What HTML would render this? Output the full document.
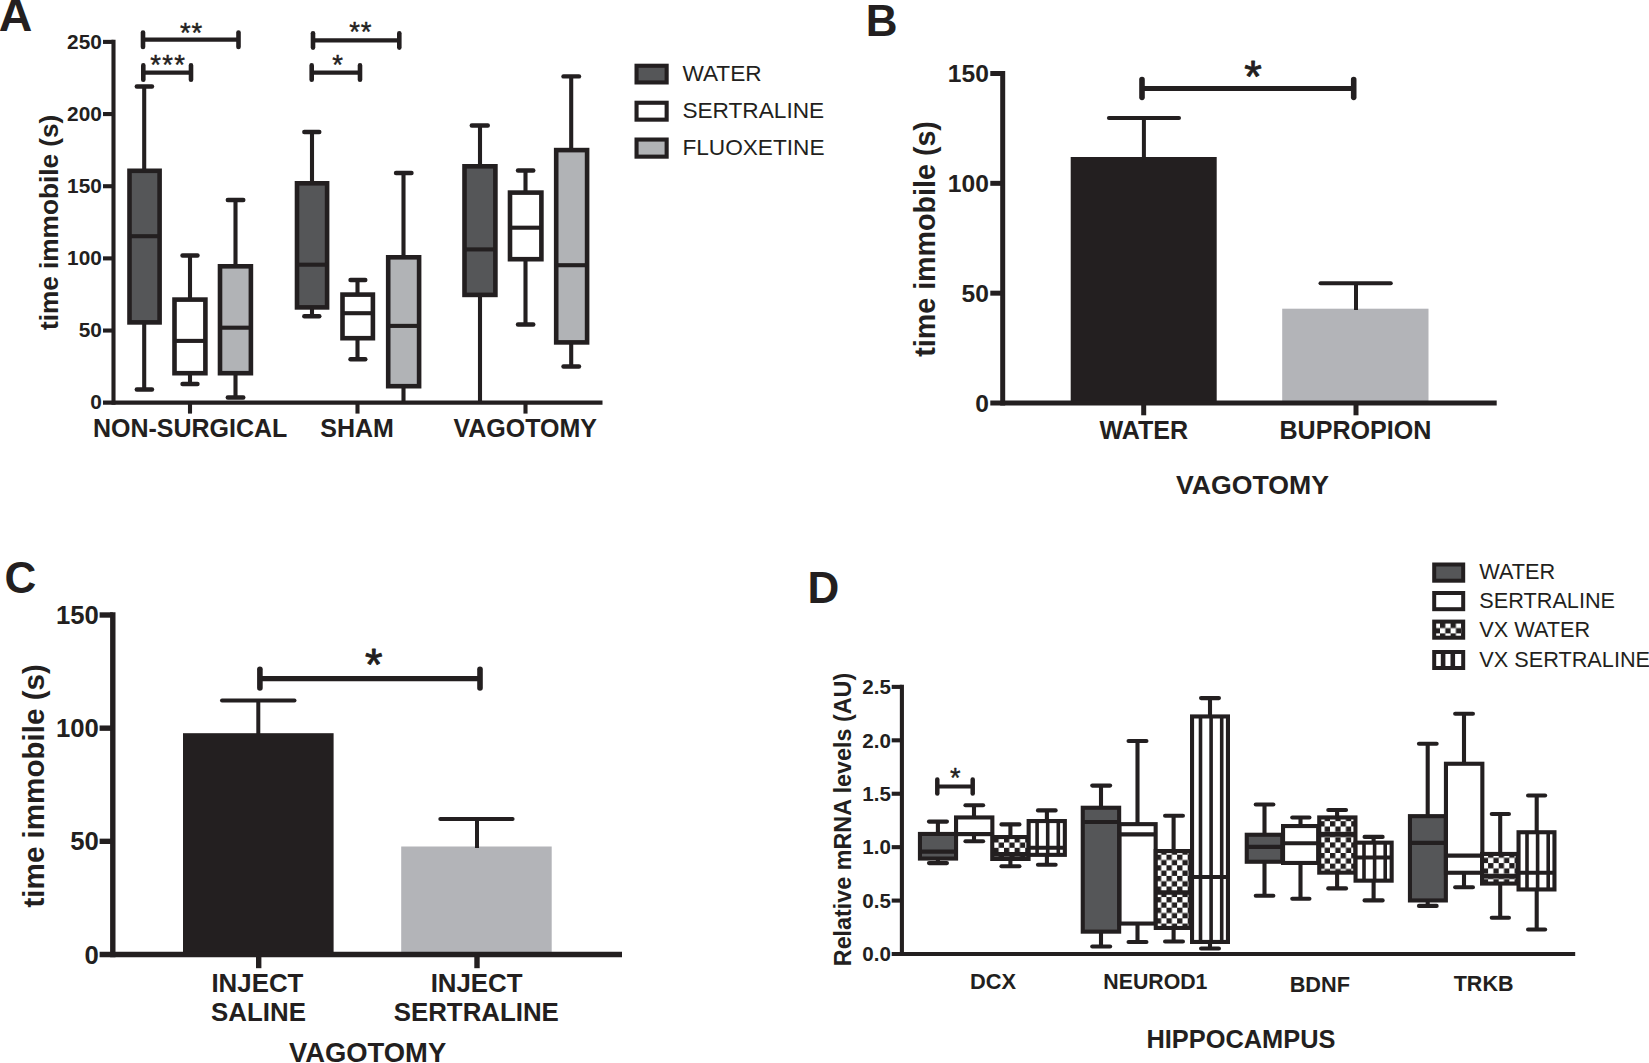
<!DOCTYPE html>
<html lang="en"><head><meta charset="utf-8"><title>Figure</title>
<style>html,body{margin:0;padding:0;background:#fff;overflow:hidden}svg{display:block}text{font-family:"Liberation Sans",Arial,Helvetica,sans-serif;fill:#231f20}</style></head><body>
<svg width="1649" height="1063" viewBox="0 0 1649 1063">
<defs>
<pattern id="chk" patternUnits="userSpaceOnUse" width="10.6" height="10.6"><rect width="10.6" height="10.6" fill="#fff"/><rect x="0" y="0" width="5.3" height="5.3" fill="#231f20"/><rect x="5.3" y="5.3" width="5.3" height="5.3" fill="#231f20"/></pattern>
</defs>
<rect width="1649" height="1063" fill="#fff"/>
<g id="panelA">
<text x="-1.3" y="31.4" font-size="46.5" font-weight="bold">A</text>
<line x1="144.2" y1="86.5" x2="144.2" y2="172.6" stroke="#231f20" stroke-width="4.1" stroke-linecap="butt"/>
<line x1="144.2" y1="320.6" x2="144.2" y2="389.5" stroke="#231f20" stroke-width="4.1" stroke-linecap="butt"/>
<line x1="136.8" y1="86.5" x2="152" y2="86.5" stroke="#231f20" stroke-width="4.4" stroke-linecap="round"/>
<line x1="136.8" y1="389.5" x2="152" y2="389.5" stroke="#231f20" stroke-width="4.4" stroke-linecap="round"/>
<rect x="129.5" y="170.8" width="30.1" height="151.6" fill="#555658" stroke="#231f20" stroke-width="4.6"/>
<line x1="129.5" y1="236.2" x2="159.6" y2="236.2" stroke="#231f20" stroke-width="4.1" stroke-linecap="butt"/>
<line x1="190" y1="255.5" x2="190" y2="301.4" stroke="#231f20" stroke-width="4.1" stroke-linecap="butt"/>
<line x1="190" y1="371.4" x2="190" y2="384" stroke="#231f20" stroke-width="4.1" stroke-linecap="butt"/>
<line x1="182.5" y1="255.5" x2="197.5" y2="255.5" stroke="#231f20" stroke-width="4.4" stroke-linecap="round"/>
<line x1="182.5" y1="384" x2="197.5" y2="384" stroke="#231f20" stroke-width="4.4" stroke-linecap="round"/>
<rect x="174.5" y="299.6" width="30.9" height="73.6" fill="#fff" stroke="#231f20" stroke-width="4.6"/>
<line x1="174.5" y1="340.9" x2="205.4" y2="340.9" stroke="#231f20" stroke-width="4.1" stroke-linecap="butt"/>
<line x1="235.5" y1="200" x2="235.5" y2="268.1" stroke="#231f20" stroke-width="4.1" stroke-linecap="butt"/>
<line x1="235.5" y1="371.4" x2="235.5" y2="397.5" stroke="#231f20" stroke-width="4.1" stroke-linecap="butt"/>
<line x1="227.8" y1="200" x2="243.3" y2="200" stroke="#231f20" stroke-width="4.4" stroke-linecap="round"/>
<line x1="227.8" y1="397.5" x2="243.3" y2="397.5" stroke="#231f20" stroke-width="4.4" stroke-linecap="round"/>
<rect x="220" y="266.3" width="30.9" height="106.9" fill="#b1b3b6" stroke="#231f20" stroke-width="4.6"/>
<line x1="220" y1="327.7" x2="250.9" y2="327.7" stroke="#231f20" stroke-width="4.1" stroke-linecap="butt"/>
<line x1="312" y1="132" x2="312" y2="185.1" stroke="#231f20" stroke-width="4.1" stroke-linecap="butt"/>
<line x1="312" y1="305.6" x2="312" y2="316.2" stroke="#231f20" stroke-width="4.1" stroke-linecap="butt"/>
<line x1="304.3" y1="132" x2="319.3" y2="132" stroke="#231f20" stroke-width="4.4" stroke-linecap="round"/>
<line x1="304.3" y1="316.2" x2="319.3" y2="316.2" stroke="#231f20" stroke-width="4.4" stroke-linecap="round"/>
<rect x="297" y="183.3" width="30.1" height="124.1" fill="#555658" stroke="#231f20" stroke-width="4.6"/>
<line x1="297" y1="264.7" x2="327.1" y2="264.7" stroke="#231f20" stroke-width="4.1" stroke-linecap="butt"/>
<line x1="357.5" y1="280" x2="357.5" y2="296.4" stroke="#231f20" stroke-width="4.1" stroke-linecap="butt"/>
<line x1="357.5" y1="336.4" x2="357.5" y2="359.2" stroke="#231f20" stroke-width="4.1" stroke-linecap="butt"/>
<line x1="350.5" y1="280" x2="365.3" y2="280" stroke="#231f20" stroke-width="4.4" stroke-linecap="round"/>
<line x1="350.5" y1="359.2" x2="365.3" y2="359.2" stroke="#231f20" stroke-width="4.4" stroke-linecap="round"/>
<rect x="342.5" y="294.6" width="30.4" height="43.6" fill="#fff" stroke="#231f20" stroke-width="4.6"/>
<line x1="342.5" y1="313.2" x2="372.9" y2="313.2" stroke="#231f20" stroke-width="4.1" stroke-linecap="butt"/>
<line x1="403.5" y1="173" x2="403.5" y2="259.1" stroke="#231f20" stroke-width="4.1" stroke-linecap="butt"/>
<line x1="403.5" y1="384.4" x2="403.5" y2="402" stroke="#231f20" stroke-width="4.1" stroke-linecap="butt"/>
<line x1="396" y1="173" x2="411.5" y2="173" stroke="#231f20" stroke-width="4.4" stroke-linecap="round"/>
<rect x="388.2" y="257.3" width="30.9" height="128.9" fill="#b1b3b6" stroke="#231f20" stroke-width="4.6"/>
<line x1="388.2" y1="325.9" x2="419.1" y2="325.9" stroke="#231f20" stroke-width="4.1" stroke-linecap="butt"/>
<line x1="480" y1="125.5" x2="480" y2="168.1" stroke="#231f20" stroke-width="4.1" stroke-linecap="butt"/>
<line x1="480" y1="293.1" x2="480" y2="402" stroke="#231f20" stroke-width="4.1" stroke-linecap="butt"/>
<line x1="471.8" y1="125.5" x2="487.8" y2="125.5" stroke="#231f20" stroke-width="4.4" stroke-linecap="round"/>
<rect x="464.5" y="166.3" width="30.9" height="128.6" fill="#555658" stroke="#231f20" stroke-width="4.6"/>
<line x1="464.5" y1="249.4" x2="495.4" y2="249.4" stroke="#231f20" stroke-width="4.1" stroke-linecap="butt"/>
<line x1="525.5" y1="170.5" x2="525.5" y2="194.4" stroke="#231f20" stroke-width="4.1" stroke-linecap="butt"/>
<line x1="525.5" y1="257.4" x2="525.5" y2="324.5" stroke="#231f20" stroke-width="4.1" stroke-linecap="butt"/>
<line x1="518" y1="170.5" x2="533.3" y2="170.5" stroke="#231f20" stroke-width="4.4" stroke-linecap="round"/>
<line x1="518" y1="324.5" x2="533.3" y2="324.5" stroke="#231f20" stroke-width="4.4" stroke-linecap="round"/>
<rect x="510" y="192.6" width="31.4" height="66.6" fill="#fff" stroke="#231f20" stroke-width="4.6"/>
<line x1="510" y1="227.7" x2="541.4" y2="227.7" stroke="#231f20" stroke-width="4.1" stroke-linecap="butt"/>
<line x1="571.2" y1="76.4" x2="571.2" y2="151.9" stroke="#231f20" stroke-width="4.1" stroke-linecap="butt"/>
<line x1="571.2" y1="340.6" x2="571.2" y2="366.5" stroke="#231f20" stroke-width="4.1" stroke-linecap="butt"/>
<line x1="563.5" y1="76.4" x2="579" y2="76.4" stroke="#231f20" stroke-width="4.4" stroke-linecap="round"/>
<line x1="563.5" y1="366.5" x2="579" y2="366.5" stroke="#231f20" stroke-width="4.4" stroke-linecap="round"/>
<rect x="556.2" y="150.1" width="30.9" height="192.3" fill="#b1b3b6" stroke="#231f20" stroke-width="4.6"/>
<line x1="556.2" y1="265.2" x2="587.1" y2="265.2" stroke="#231f20" stroke-width="4.1" stroke-linecap="butt"/>
<line x1="113.5" y1="39.85" x2="113.5" y2="404.75" stroke="#231f20" stroke-width="4.1" stroke-linecap="butt"/>
<line x1="103" y1="402.7" x2="602.5" y2="402.7" stroke="#231f20" stroke-width="4.3" stroke-linecap="butt"/>
<line x1="103" y1="330.54" x2="113.5" y2="330.54" stroke="#231f20" stroke-width="4.1" stroke-linecap="butt"/>
<line x1="103" y1="258.38" x2="113.5" y2="258.38" stroke="#231f20" stroke-width="4.1" stroke-linecap="butt"/>
<line x1="103" y1="186.22" x2="113.5" y2="186.22" stroke="#231f20" stroke-width="4.1" stroke-linecap="butt"/>
<line x1="103" y1="114.06" x2="113.5" y2="114.06" stroke="#231f20" stroke-width="4.1" stroke-linecap="butt"/>
<line x1="103" y1="41.9" x2="113.5" y2="41.9" stroke="#231f20" stroke-width="4.1" stroke-linecap="butt"/>
<text x="101.8" y="409.4" font-size="20.8" font-weight="bold" text-anchor="end">0</text>
<text x="101.8" y="337.24" font-size="20.8" font-weight="bold" text-anchor="end">50</text>
<text x="101.8" y="265.08" font-size="20.8" font-weight="bold" text-anchor="end">100</text>
<text x="101.8" y="192.92" font-size="20.8" font-weight="bold" text-anchor="end">150</text>
<text x="101.8" y="120.76" font-size="20.8" font-weight="bold" text-anchor="end">200</text>
<text x="101.8" y="48.6" font-size="20.8" font-weight="bold" text-anchor="end">250</text>
<line x1="190" y1="402.7" x2="190" y2="413.6" stroke="#231f20" stroke-width="4.1" stroke-linecap="butt"/>
<line x1="357.5" y1="402.7" x2="357.5" y2="413.6" stroke="#231f20" stroke-width="4.1" stroke-linecap="butt"/>
<line x1="525.5" y1="402.7" x2="525.5" y2="413.6" stroke="#231f20" stroke-width="4.1" stroke-linecap="butt"/>
<text x="190.1" y="436.8" font-size="25" font-weight="bold" text-anchor="middle">NON-SURGICAL</text>
<text x="357.1" y="436.8" font-size="25" font-weight="bold" text-anchor="middle">SHAM</text>
<text x="525.2" y="436.8" font-size="25" font-weight="bold" text-anchor="middle">VAGOTOMY</text>
<text x="57.6" y="222.4" font-size="26.2" font-weight="bold" text-anchor="middle" transform="rotate(-90 57.6 222.4)">time immobile (s)</text>
<line x1="143" y1="39.7" x2="238.5" y2="39.7" stroke="#231f20" stroke-width="4.3" stroke-linecap="butt"/>
<line x1="143" y1="32.5" x2="143" y2="46.9" stroke="#231f20" stroke-width="4.6" stroke-linecap="round"/>
<line x1="238.5" y1="32.5" x2="238.5" y2="46.9" stroke="#231f20" stroke-width="4.6" stroke-linecap="round"/>
<line x1="143.3" y1="72.6" x2="191" y2="72.6" stroke="#231f20" stroke-width="4.3" stroke-linecap="butt"/>
<line x1="143.3" y1="65.4" x2="143.3" y2="79.8" stroke="#231f20" stroke-width="4.6" stroke-linecap="round"/>
<line x1="191" y1="65.4" x2="191" y2="79.8" stroke="#231f20" stroke-width="4.6" stroke-linecap="round"/>
<line x1="313" y1="40.4" x2="399.3" y2="40.4" stroke="#231f20" stroke-width="4.3" stroke-linecap="butt"/>
<line x1="313" y1="33.2" x2="313" y2="47.6" stroke="#231f20" stroke-width="4.6" stroke-linecap="round"/>
<line x1="399.3" y1="33.2" x2="399.3" y2="47.6" stroke="#231f20" stroke-width="4.6" stroke-linecap="round"/>
<line x1="311.7" y1="72.6" x2="360" y2="72.6" stroke="#231f20" stroke-width="4.3" stroke-linecap="butt"/>
<line x1="311.7" y1="65.4" x2="311.7" y2="79.8" stroke="#231f20" stroke-width="4.6" stroke-linecap="round"/>
<line x1="360" y1="65.4" x2="360" y2="79.8" stroke="#231f20" stroke-width="4.6" stroke-linecap="round"/>
<text x="191.6" y="41.5" font-size="27.5" text-anchor="middle" stroke="#231f20" stroke-width="0.45" stroke-linejoin="round" letter-spacing="0.8">**</text>
<text x="168.2" y="74" font-size="27.5" text-anchor="middle" stroke="#231f20" stroke-width="0.45" stroke-linejoin="round" letter-spacing="1.2">***</text>
<text x="360.7" y="40.5" font-size="27.5" text-anchor="middle" stroke="#231f20" stroke-width="0.45" stroke-linejoin="round" letter-spacing="0.8">**</text>
<text x="337.5" y="74" font-size="27.5" text-anchor="middle" stroke="#231f20" stroke-width="0.45" stroke-linejoin="round">*</text>
<rect x="636.55" y="65.75" width="30.1" height="16.7" fill="#555658" stroke="#231f20" stroke-width="4.1"/>
<text x="682.4" y="81.2" font-size="22.65">WATER</text>
<rect x="636.55" y="102.75" width="30.1" height="16.9" fill="#fff" stroke="#231f20" stroke-width="4.1"/>
<text x="682.4" y="118" font-size="22.65">SERTRALINE</text>
<rect x="636.55" y="139.55" width="30.1" height="17.1" fill="#b1b3b6" stroke="#231f20" stroke-width="4.1"/>
<text x="682.4" y="155" font-size="22.65">FLUOXETINE</text>
</g>
<g id="panelB">
<text x="865.8" y="35.5" font-size="44" font-weight="bold">B</text>
<rect x="1070.7" y="157" width="146" height="246" fill="#231f20"/>
<rect x="1282.2" y="308.7" width="146.3" height="94.3" fill="#b3b4b8"/>
<line x1="1143.9" y1="117.9" x2="1143.9" y2="158" stroke="#231f20" stroke-width="4" stroke-linecap="butt"/>
<line x1="1108.9" y1="117.9" x2="1179" y2="117.9" stroke="#231f20" stroke-width="4" stroke-linecap="round"/>
<line x1="1356" y1="283.3" x2="1356" y2="310" stroke="#231f20" stroke-width="4" stroke-linecap="butt"/>
<line x1="1320.5" y1="283.3" x2="1390.8" y2="283.3" stroke="#231f20" stroke-width="4" stroke-linecap="round"/>
<line x1="1002.7" y1="71" x2="1002.7" y2="405.5" stroke="#231f20" stroke-width="5" stroke-linecap="butt"/>
<line x1="990.3" y1="403" x2="1496.7" y2="403" stroke="#231f20" stroke-width="5" stroke-linecap="butt"/>
<line x1="990.3" y1="293.17" x2="1002.7" y2="293.17" stroke="#231f20" stroke-width="5" stroke-linecap="butt"/>
<line x1="990.3" y1="183.33" x2="1002.7" y2="183.33" stroke="#231f20" stroke-width="5" stroke-linecap="butt"/>
<line x1="990.3" y1="73.5" x2="1002.7" y2="73.5" stroke="#231f20" stroke-width="5" stroke-linecap="butt"/>
<text x="988.9" y="411.8" font-size="24.6" font-weight="bold" text-anchor="end">0</text>
<text x="988.9" y="301.97" font-size="24.6" font-weight="bold" text-anchor="end">50</text>
<text x="988.9" y="192.13" font-size="24.6" font-weight="bold" text-anchor="end">100</text>
<text x="988.9" y="82.3" font-size="24.6" font-weight="bold" text-anchor="end">150</text>
<line x1="1143.7" y1="403" x2="1143.7" y2="415.3" stroke="#231f20" stroke-width="5" stroke-linecap="butt"/>
<line x1="1356" y1="403" x2="1356" y2="415.3" stroke="#231f20" stroke-width="5" stroke-linecap="butt"/>
<text x="1143.8" y="439.2" font-size="25.1" font-weight="bold" text-anchor="middle">WATER</text>
<text x="1355.5" y="439.2" font-size="25.1" font-weight="bold" text-anchor="middle">BUPROPION</text>
<text x="1252.5" y="493.9" font-size="26.65" font-weight="bold" text-anchor="middle">VAGOTOMY</text>
<text x="935.3" y="238.9" font-size="28.66" font-weight="bold" text-anchor="middle" transform="rotate(-90 935.3 238.9)">time immobile (s)</text>
<line x1="1142" y1="88.5" x2="1353.7" y2="88.5" stroke="#231f20" stroke-width="5" stroke-linecap="butt"/>
<line x1="1142" y1="79.65" x2="1142" y2="97.35" stroke="#231f20" stroke-width="5.6" stroke-linecap="round"/>
<line x1="1353.7" y1="79.65" x2="1353.7" y2="97.35" stroke="#231f20" stroke-width="5.6" stroke-linecap="round"/>
<text x="1253.1" y="92.3" font-size="45" text-anchor="middle" stroke="#231f20" stroke-width="0.9" stroke-linejoin="round">*</text>
</g>
<g id="panelC">
<text x="4.5" y="592.6" font-size="44" font-weight="bold">C</text>
<rect x="183" y="733.2" width="150.6" height="221.3" fill="#231f20"/>
<rect x="401.2" y="846.5" width="150.5" height="108" fill="#b3b4b8"/>
<line x1="258.3" y1="700.5" x2="258.3" y2="734" stroke="#231f20" stroke-width="4" stroke-linecap="butt"/>
<line x1="222" y1="700.5" x2="294.5" y2="700.5" stroke="#231f20" stroke-width="4" stroke-linecap="round"/>
<line x1="477" y1="819" x2="477" y2="848" stroke="#231f20" stroke-width="4" stroke-linecap="butt"/>
<line x1="440.3" y1="819" x2="512.6" y2="819" stroke="#231f20" stroke-width="4" stroke-linecap="round"/>
<line x1="112.8" y1="612.3" x2="112.8" y2="957.2" stroke="#231f20" stroke-width="5.4" stroke-linecap="butt"/>
<line x1="99.6" y1="954.5" x2="622" y2="954.5" stroke="#231f20" stroke-width="5.4" stroke-linecap="butt"/>
<line x1="99.6" y1="841.33" x2="112.8" y2="841.33" stroke="#231f20" stroke-width="5.4" stroke-linecap="butt"/>
<line x1="99.6" y1="728.17" x2="112.8" y2="728.17" stroke="#231f20" stroke-width="5.4" stroke-linecap="butt"/>
<line x1="99.6" y1="615" x2="112.8" y2="615" stroke="#231f20" stroke-width="5.4" stroke-linecap="butt"/>
<text x="98.9" y="963.6" font-size="25.7" font-weight="bold" text-anchor="end">0</text>
<text x="98.9" y="850.43" font-size="25.7" font-weight="bold" text-anchor="end">50</text>
<text x="98.9" y="737.27" font-size="25.7" font-weight="bold" text-anchor="end">100</text>
<text x="98.9" y="624.1" font-size="25.7" font-weight="bold" text-anchor="end">150</text>
<line x1="258.7" y1="954.5" x2="258.7" y2="968.2" stroke="#231f20" stroke-width="5.4" stroke-linecap="butt"/>
<line x1="477" y1="954.5" x2="477" y2="968.2" stroke="#231f20" stroke-width="5.4" stroke-linecap="butt"/>
<text x="257.4" y="991.9" font-size="25.85" font-weight="bold" text-anchor="middle">INJECT</text>
<text x="258.5" y="1021" font-size="25.85" font-weight="bold" text-anchor="middle">SALINE</text>
<text x="476.6" y="991.9" font-size="25.85" font-weight="bold" text-anchor="middle">INJECT</text>
<text x="476.3" y="1021" font-size="25.85" font-weight="bold" text-anchor="middle">SERTRALINE</text>
<text x="367.6" y="1062.2" font-size="27.4" font-weight="bold" text-anchor="middle">VAGOTOMY</text>
<text x="43.7" y="785.8" font-size="29.6" font-weight="bold" text-anchor="middle" transform="rotate(-90 43.7 785.8)">time immobile (s)</text>
<line x1="259.9" y1="678.6" x2="480" y2="678.6" stroke="#231f20" stroke-width="5.2" stroke-linecap="butt"/>
<line x1="259.9" y1="669.2" x2="259.9" y2="688" stroke="#231f20" stroke-width="5.6" stroke-linecap="round"/>
<line x1="480" y1="669.2" x2="480" y2="688" stroke="#231f20" stroke-width="5.6" stroke-linecap="round"/>
<text x="373.7" y="680.2" font-size="45" text-anchor="middle" stroke="#231f20" stroke-width="0.9" stroke-linejoin="round">*</text>
</g>
<g id="panelD">
<text x="807.5" y="602.5" font-size="44" font-weight="bold">D</text>
<line x1="937.9" y1="821.6" x2="937.9" y2="836" stroke="#231f20" stroke-width="4.1" stroke-linecap="butt"/>
<line x1="937.9" y1="856.5" x2="937.9" y2="863.1" stroke="#231f20" stroke-width="4.1" stroke-linecap="butt"/>
<line x1="928.95" y1="821.6" x2="946.95" y2="821.6" stroke="#231f20" stroke-width="4.1" stroke-linecap="round"/>
<line x1="928.95" y1="863.1" x2="946.95" y2="863.1" stroke="#231f20" stroke-width="4.1" stroke-linecap="round"/>
<rect x="919.95" y="833.95" width="36.1" height="24.6" fill="#555658" stroke="#231f20" stroke-width="4.1"/>
<line x1="919.95" y1="851.6" x2="956.05" y2="851.6" stroke="#231f20" stroke-width="4.1" stroke-linecap="butt"/>
<line x1="974" y1="805.2" x2="974" y2="819.5" stroke="#231f20" stroke-width="4.1" stroke-linecap="butt"/>
<line x1="974" y1="832.1" x2="974" y2="841.2" stroke="#231f20" stroke-width="4.1" stroke-linecap="butt"/>
<line x1="965.45" y1="805.2" x2="983.15" y2="805.2" stroke="#231f20" stroke-width="4.1" stroke-linecap="round"/>
<line x1="965.45" y1="841.2" x2="983.15" y2="841.2" stroke="#231f20" stroke-width="4.1" stroke-linecap="round"/>
<rect x="956.05" y="817.45" width="36.3" height="16.7" fill="#fff" stroke="#231f20" stroke-width="4.1"/>
<line x1="956.05" y1="834" x2="992.35" y2="834" stroke="#231f20" stroke-width="4.1" stroke-linecap="butt"/>
<line x1="1010.4" y1="824.4" x2="1010.4" y2="839.1" stroke="#231f20" stroke-width="4.1" stroke-linecap="butt"/>
<line x1="1010.4" y1="856.9" x2="1010.4" y2="866.2" stroke="#231f20" stroke-width="4.1" stroke-linecap="butt"/>
<line x1="1001.45" y1="824.4" x2="1019.45" y2="824.4" stroke="#231f20" stroke-width="4.1" stroke-linecap="round"/>
<line x1="1001.45" y1="866.2" x2="1019.45" y2="866.2" stroke="#231f20" stroke-width="4.1" stroke-linecap="round"/>
<g transform="translate(993.4 837.2)"><rect x="-1.15" y="-0.15" width="36.3" height="21.9" fill="url(#chk)"/></g>
<rect x="992.25" y="837.05" width="36.3" height="21.9" fill="none" stroke="#231f20" stroke-width="4.1"/>
<line x1="992.25" y1="854.4" x2="1028.55" y2="854.4" stroke="#231f20" stroke-width="4.6" stroke-linecap="butt"/>
<line x1="1046.9" y1="810.4" x2="1046.9" y2="823.1" stroke="#231f20" stroke-width="4.1" stroke-linecap="butt"/>
<line x1="1046.9" y1="852.8" x2="1046.9" y2="864.7" stroke="#231f20" stroke-width="4.1" stroke-linecap="butt"/>
<line x1="1037.95" y1="810.4" x2="1055.65" y2="810.4" stroke="#231f20" stroke-width="4.1" stroke-linecap="round"/>
<line x1="1037.95" y1="864.7" x2="1055.65" y2="864.7" stroke="#231f20" stroke-width="4.1" stroke-linecap="round"/>
<rect x="1028.65" y="821.05" width="36.2" height="33.8" fill="#fff" stroke="#231f20" stroke-width="4.1"/>
<line x1="1037.1" y1="821.05" x2="1037.1" y2="854.85" stroke="#231f20" stroke-width="3.6" stroke-linecap="butt"/>
<line x1="1047.7" y1="821.05" x2="1047.7" y2="854.85" stroke="#231f20" stroke-width="3.6" stroke-linecap="butt"/>
<line x1="1058.3" y1="821.05" x2="1058.3" y2="854.85" stroke="#231f20" stroke-width="3.6" stroke-linecap="butt"/>
<line x1="1028.65" y1="847.7" x2="1064.85" y2="847.7" stroke="#231f20" stroke-width="4.1" stroke-linecap="butt"/>
<line x1="1101" y1="785.6" x2="1101" y2="809.8" stroke="#231f20" stroke-width="4.1" stroke-linecap="butt"/>
<line x1="1101" y1="929.6" x2="1101" y2="946.5" stroke="#231f20" stroke-width="4.1" stroke-linecap="butt"/>
<line x1="1092.25" y1="785.6" x2="1110.15" y2="785.6" stroke="#231f20" stroke-width="4.1" stroke-linecap="round"/>
<line x1="1092.25" y1="946.5" x2="1110.15" y2="946.5" stroke="#231f20" stroke-width="4.1" stroke-linecap="round"/>
<rect x="1082.75" y="807.75" width="36.4" height="123.9" fill="#555658" stroke="#231f20" stroke-width="4.1"/>
<line x1="1082.75" y1="822" x2="1119.15" y2="822" stroke="#231f20" stroke-width="4.1" stroke-linecap="butt"/>
<line x1="1137.5" y1="741" x2="1137.5" y2="826.2" stroke="#231f20" stroke-width="4.1" stroke-linecap="butt"/>
<line x1="1137.5" y1="921.5" x2="1137.5" y2="942" stroke="#231f20" stroke-width="4.1" stroke-linecap="butt"/>
<line x1="1128.55" y1="741" x2="1146.45" y2="741" stroke="#231f20" stroke-width="4.1" stroke-linecap="round"/>
<line x1="1128.55" y1="942" x2="1146.45" y2="942" stroke="#231f20" stroke-width="4.1" stroke-linecap="round"/>
<rect x="1119.55" y="824.15" width="36.1" height="99.4" fill="#fff" stroke="#231f20" stroke-width="4.1"/>
<line x1="1119.55" y1="834.4" x2="1155.65" y2="834.4" stroke="#231f20" stroke-width="4.1" stroke-linecap="butt"/>
<line x1="1173.6" y1="815.7" x2="1173.6" y2="853.1" stroke="#231f20" stroke-width="4.1" stroke-linecap="butt"/>
<line x1="1173.6" y1="925.9" x2="1173.6" y2="941.5" stroke="#231f20" stroke-width="4.1" stroke-linecap="butt"/>
<line x1="1165.05" y1="815.7" x2="1182.95" y2="815.7" stroke="#231f20" stroke-width="4.1" stroke-linecap="round"/>
<line x1="1165.05" y1="941.5" x2="1182.95" y2="941.5" stroke="#231f20" stroke-width="4.1" stroke-linecap="round"/>
<g transform="translate(1155.9 854.7)"><rect x="-0.15" y="-3.65" width="34.7" height="76.9" fill="url(#chk)"/></g>
<rect x="1155.75" y="851.05" width="34.7" height="76.9" fill="none" stroke="#231f20" stroke-width="4.1"/>
<line x1="1155.75" y1="892.5" x2="1190.45" y2="892.5" stroke="#231f20" stroke-width="4.6" stroke-linecap="butt"/>
<line x1="1210" y1="698.1" x2="1210" y2="718.5" stroke="#231f20" stroke-width="4.1" stroke-linecap="butt"/>
<line x1="1210" y1="939.9" x2="1210" y2="948.5" stroke="#231f20" stroke-width="4.1" stroke-linecap="butt"/>
<line x1="1201.05" y1="698.1" x2="1218.95" y2="698.1" stroke="#231f20" stroke-width="4.1" stroke-linecap="round"/>
<line x1="1201.05" y1="948.5" x2="1218.95" y2="948.5" stroke="#231f20" stroke-width="4.1" stroke-linecap="round"/>
<rect x="1192.05" y="716.45" width="35.9" height="225.5" fill="#fff" stroke="#231f20" stroke-width="4.1"/>
<line x1="1200.5" y1="716.45" x2="1200.5" y2="941.95" stroke="#231f20" stroke-width="3.6" stroke-linecap="butt"/>
<line x1="1211.1" y1="716.45" x2="1211.1" y2="941.95" stroke="#231f20" stroke-width="3.6" stroke-linecap="butt"/>
<line x1="1221.7" y1="716.45" x2="1221.7" y2="941.95" stroke="#231f20" stroke-width="3.6" stroke-linecap="butt"/>
<line x1="1192.05" y1="877" x2="1227.95" y2="877" stroke="#231f20" stroke-width="4.1" stroke-linecap="butt"/>
<line x1="1264.5" y1="804.5" x2="1264.5" y2="836.8" stroke="#231f20" stroke-width="4.1" stroke-linecap="butt"/>
<line x1="1264.5" y1="859.7" x2="1264.5" y2="895.7" stroke="#231f20" stroke-width="4.1" stroke-linecap="butt"/>
<line x1="1255.75" y1="804.5" x2="1273.35" y2="804.5" stroke="#231f20" stroke-width="4.1" stroke-linecap="round"/>
<line x1="1255.75" y1="895.7" x2="1273.35" y2="895.7" stroke="#231f20" stroke-width="4.1" stroke-linecap="round"/>
<rect x="1246.75" y="834.75" width="35.5" height="27" fill="#555658" stroke="#231f20" stroke-width="4.1"/>
<line x1="1246.75" y1="846.9" x2="1282.25" y2="846.9" stroke="#231f20" stroke-width="4.1" stroke-linecap="butt"/>
<line x1="1300.5" y1="817.5" x2="1300.5" y2="828.1" stroke="#231f20" stroke-width="4.1" stroke-linecap="butt"/>
<line x1="1300.5" y1="860.9" x2="1300.5" y2="898.7" stroke="#231f20" stroke-width="4.1" stroke-linecap="butt"/>
<line x1="1292.25" y1="817.5" x2="1309.45" y2="817.5" stroke="#231f20" stroke-width="4.1" stroke-linecap="round"/>
<line x1="1292.25" y1="898.7" x2="1309.45" y2="898.7" stroke="#231f20" stroke-width="4.1" stroke-linecap="round"/>
<rect x="1283.05" y="826.05" width="35.1" height="36.9" fill="#fff" stroke="#231f20" stroke-width="4.1"/>
<line x1="1283.05" y1="843.2" x2="1318.15" y2="843.2" stroke="#231f20" stroke-width="4.1" stroke-linecap="butt"/>
<line x1="1337.1" y1="810" x2="1337.1" y2="819.5" stroke="#231f20" stroke-width="4.1" stroke-linecap="butt"/>
<line x1="1337.1" y1="870.6" x2="1337.1" y2="888.4" stroke="#231f20" stroke-width="4.1" stroke-linecap="butt"/>
<line x1="1328.25" y1="810" x2="1346.05" y2="810" stroke="#231f20" stroke-width="4.1" stroke-linecap="round"/>
<line x1="1328.25" y1="888.4" x2="1346.05" y2="888.4" stroke="#231f20" stroke-width="4.1" stroke-linecap="round"/>
<g transform="translate(1330 821.2)"><rect x="-10.75" y="-3.75" width="36.2" height="55.2" fill="url(#chk)"/></g>
<rect x="1319.25" y="817.45" width="36.2" height="55.2" fill="none" stroke="#231f20" stroke-width="4.1"/>
<line x1="1319.25" y1="834.4" x2="1355.45" y2="834.4" stroke="#231f20" stroke-width="4.6" stroke-linecap="butt"/>
<line x1="1373.6" y1="836.9" x2="1373.6" y2="844.7" stroke="#231f20" stroke-width="4.1" stroke-linecap="butt"/>
<line x1="1373.6" y1="878.6" x2="1373.6" y2="900.4" stroke="#231f20" stroke-width="4.1" stroke-linecap="butt"/>
<line x1="1364.55" y1="836.9" x2="1382.65" y2="836.9" stroke="#231f20" stroke-width="4.1" stroke-linecap="round"/>
<line x1="1364.55" y1="900.4" x2="1382.65" y2="900.4" stroke="#231f20" stroke-width="4.1" stroke-linecap="round"/>
<rect x="1355.55" y="842.65" width="36.1" height="38" fill="#fff" stroke="#231f20" stroke-width="4.1"/>
<line x1="1364" y1="842.65" x2="1364" y2="880.65" stroke="#231f20" stroke-width="3.6" stroke-linecap="butt"/>
<line x1="1374.6" y1="842.65" x2="1374.6" y2="880.65" stroke="#231f20" stroke-width="3.6" stroke-linecap="butt"/>
<line x1="1385.2" y1="842.65" x2="1385.2" y2="880.65" stroke="#231f20" stroke-width="3.6" stroke-linecap="butt"/>
<line x1="1355.55" y1="857.5" x2="1391.65" y2="857.5" stroke="#231f20" stroke-width="4.1" stroke-linecap="butt"/>
<line x1="1427.7" y1="743.7" x2="1427.7" y2="818.2" stroke="#231f20" stroke-width="4.1" stroke-linecap="butt"/>
<line x1="1427.7" y1="898.4" x2="1427.7" y2="905.9" stroke="#231f20" stroke-width="4.1" stroke-linecap="butt"/>
<line x1="1418.95" y1="743.7" x2="1436.65" y2="743.7" stroke="#231f20" stroke-width="4.1" stroke-linecap="round"/>
<line x1="1418.95" y1="905.9" x2="1436.65" y2="905.9" stroke="#231f20" stroke-width="4.1" stroke-linecap="round"/>
<rect x="1409.95" y="816.15" width="35.9" height="84.3" fill="#555658" stroke="#231f20" stroke-width="4.1"/>
<line x1="1409.95" y1="842.9" x2="1445.85" y2="842.9" stroke="#231f20" stroke-width="4.1" stroke-linecap="butt"/>
<line x1="1464" y1="713.7" x2="1464" y2="765.8" stroke="#231f20" stroke-width="4.1" stroke-linecap="butt"/>
<line x1="1464" y1="870.7" x2="1464" y2="887.2" stroke="#231f20" stroke-width="4.1" stroke-linecap="butt"/>
<line x1="1455.15" y1="713.7" x2="1472.95" y2="713.7" stroke="#231f20" stroke-width="4.1" stroke-linecap="round"/>
<line x1="1455.15" y1="887.2" x2="1472.95" y2="887.2" stroke="#231f20" stroke-width="4.1" stroke-linecap="round"/>
<rect x="1445.95" y="763.75" width="36.4" height="109" fill="#fff" stroke="#231f20" stroke-width="4.1"/>
<line x1="1445.95" y1="855.6" x2="1482.35" y2="855.6" stroke="#231f20" stroke-width="4.1" stroke-linecap="butt"/>
<line x1="1500.2" y1="814" x2="1500.2" y2="856" stroke="#231f20" stroke-width="4.1" stroke-linecap="butt"/>
<line x1="1500.2" y1="881.5" x2="1500.2" y2="917.7" stroke="#231f20" stroke-width="4.1" stroke-linecap="butt"/>
<line x1="1491.75" y1="814" x2="1508.95" y2="814" stroke="#231f20" stroke-width="4.1" stroke-linecap="round"/>
<line x1="1491.75" y1="917.7" x2="1508.95" y2="917.7" stroke="#231f20" stroke-width="4.1" stroke-linecap="round"/>
<g transform="translate(1488.1 863.1)"><rect x="-6.05" y="-9.15" width="35.6" height="29.6" fill="url(#chk)"/></g>
<rect x="1482.05" y="853.95" width="35.6" height="29.6" fill="none" stroke="#231f20" stroke-width="4.1"/>
<line x1="1482.05" y1="876.2" x2="1517.65" y2="876.2" stroke="#231f20" stroke-width="4.6" stroke-linecap="butt"/>
<line x1="1536.7" y1="795.5" x2="1536.7" y2="834.3" stroke="#231f20" stroke-width="4.1" stroke-linecap="butt"/>
<line x1="1536.7" y1="887.4" x2="1536.7" y2="929.5" stroke="#231f20" stroke-width="4.1" stroke-linecap="butt"/>
<line x1="1528.05" y1="795.5" x2="1545.15" y2="795.5" stroke="#231f20" stroke-width="4.1" stroke-linecap="round"/>
<line x1="1528.05" y1="929.5" x2="1545.15" y2="929.5" stroke="#231f20" stroke-width="4.1" stroke-linecap="round"/>
<rect x="1518.55" y="832.25" width="35.9" height="57.2" fill="#fff" stroke="#231f20" stroke-width="4.1"/>
<line x1="1527" y1="832.25" x2="1527" y2="889.45" stroke="#231f20" stroke-width="3.6" stroke-linecap="butt"/>
<line x1="1537.6" y1="832.25" x2="1537.6" y2="889.45" stroke="#231f20" stroke-width="3.6" stroke-linecap="butt"/>
<line x1="1548.2" y1="832.25" x2="1548.2" y2="889.45" stroke="#231f20" stroke-width="3.6" stroke-linecap="butt"/>
<line x1="1518.55" y1="872.7" x2="1554.45" y2="872.7" stroke="#231f20" stroke-width="4.1" stroke-linecap="butt"/>
<line x1="901.9" y1="684.85" x2="901.9" y2="956.05" stroke="#231f20" stroke-width="4.1" stroke-linecap="butt"/>
<line x1="891.7" y1="954" x2="1575.2" y2="954" stroke="#231f20" stroke-width="4.1" stroke-linecap="butt"/>
<line x1="891.7" y1="900.58" x2="901.9" y2="900.58" stroke="#231f20" stroke-width="4.1" stroke-linecap="butt"/>
<line x1="891.7" y1="847.16" x2="901.9" y2="847.16" stroke="#231f20" stroke-width="4.1" stroke-linecap="butt"/>
<line x1="891.7" y1="793.74" x2="901.9" y2="793.74" stroke="#231f20" stroke-width="4.1" stroke-linecap="butt"/>
<line x1="891.7" y1="740.32" x2="901.9" y2="740.32" stroke="#231f20" stroke-width="4.1" stroke-linecap="butt"/>
<line x1="891.7" y1="686.9" x2="901.9" y2="686.9" stroke="#231f20" stroke-width="4.1" stroke-linecap="butt"/>
<text x="890.9" y="961.2" font-size="20.6" font-weight="bold" text-anchor="end">0.0</text>
<text x="890.9" y="907.78" font-size="20.6" font-weight="bold" text-anchor="end">0.5</text>
<text x="890.9" y="854.36" font-size="20.6" font-weight="bold" text-anchor="end">1.0</text>
<text x="890.9" y="800.94" font-size="20.6" font-weight="bold" text-anchor="end">1.5</text>
<text x="890.9" y="747.52" font-size="20.6" font-weight="bold" text-anchor="end">2.0</text>
<text x="890.9" y="694.1" font-size="20.6" font-weight="bold" text-anchor="end">2.5</text>
<text x="993.1" y="989.1" font-size="21.8" font-weight="bold" text-anchor="middle">DCX</text>
<text x="1155.4" y="989.3" font-size="21.3" font-weight="bold" text-anchor="middle">NEUROD1</text>
<text x="1319.8" y="992.4" font-size="21.7" font-weight="bold" text-anchor="middle">BDNF</text>
<text x="1483.6" y="991.4" font-size="21.5" font-weight="bold" text-anchor="middle">TRKB</text>
<text x="1240.9" y="1047.5" font-size="25.4" font-weight="bold" text-anchor="middle">HIPPOCAMPUS</text>
<text x="851" y="819.5" font-size="23.34" font-weight="bold" text-anchor="middle" transform="rotate(-90 851 819.5)">Relative mRNA levels (AU)</text>
<line x1="937.3" y1="786.5" x2="972.7" y2="786.5" stroke="#231f20" stroke-width="4.2" stroke-linecap="butt"/>
<line x1="937.3" y1="779.4" x2="937.3" y2="793.6" stroke="#231f20" stroke-width="4.5" stroke-linecap="round"/>
<line x1="972.7" y1="779.4" x2="972.7" y2="793.6" stroke="#231f20" stroke-width="4.5" stroke-linecap="round"/>
<text x="955.2" y="787.1" font-size="27" text-anchor="middle" stroke="#231f20" stroke-width="0.45" stroke-linejoin="round">*</text>
<rect x="1434.2" y="564.5" width="29" height="16.2" fill="#555658" stroke="#231f20" stroke-width="4"/>
<rect x="1434.2" y="593" width="29" height="16.2" fill="#fff" stroke="#231f20" stroke-width="4"/>
<g transform="translate(1440 622.8)"><rect x="-5.8" y="-1.2" width="29" height="16.1" fill="url(#chk)"/></g>
<rect x="1434.2" y="621.6" width="29" height="16.1" fill="none" stroke="#231f20" stroke-width="4"/>
<rect x="1434.2" y="652" width="29" height="16" fill="#fff" stroke="#231f20" stroke-width="4"/>
<line x1="1443.1" y1="652" x2="1443.1" y2="668" stroke="#231f20" stroke-width="4.6" stroke-linecap="butt"/>
<line x1="1452.8" y1="652" x2="1452.8" y2="668" stroke="#231f20" stroke-width="4.6" stroke-linecap="butt"/>
<text x="1479.3" y="579.4" font-size="21.7">WATER</text>
<text x="1479.3" y="608.1" font-size="21.7">SERTRALINE</text>
<text x="1479.3" y="636.6" font-size="21.7">VX WATER</text>
<text x="1479.3" y="666.9" font-size="21.7">VX SERTRALINE</text>
</g>
</svg></body></html>
